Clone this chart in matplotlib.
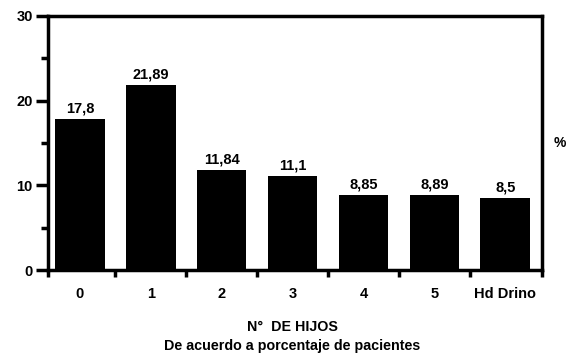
import matplotlib
matplotlib.use("Agg")
import matplotlib.pyplot as plt
import numpy as np

categories = ["0", "1", "2", "3", "4", "5", "Hd Drino"]
values = [17.8, 21.89, 11.84, 11.1, 8.85, 8.89, 8.5]
value_labels = ["17,8", "21,89", "11,84", "11,1", "8,85", "8,89", "8,5"]

plt.rcParams["font.family"] = ["Liberation Sans", "DejaVu Sans"]
plt.rcParams["font.weight"] = "bold"

fig = plt.figure(figsize=(5.67, 3.55), dpi=100)
ax = fig.add_axes([0.0847, 0.2394, 0.8713, 0.7156])

x = np.arange(len(categories))
ax.bar(x, values, width=0.7, color="black", zorder=2)
for xi, v, lab in zip(x, values, value_labels):
    ax.text(xi, v + 0.4, lab, ha="center", va="bottom", fontsize=10.5, fontweight="bold")

ax.set_xlim(-0.45, 6.52)
ax.set_ylim(0, 30)

lw = 2.5
for s in ax.spines.values():
    s.set_linewidth(lw)

ax.set_yticks([0, 10, 20, 30])
ax.set_yticks([5, 15, 25], minor=True)
ax.tick_params(axis="y", which="major", length=9, width=lw, labelsize=10.5, pad=2)
ax.tick_params(axis="y", which="minor", length=5, width=lw)

ax.set_xticks(x)
ax.set_xticklabels(categories)
ax.set_xticks([-0.45, 0.5, 1.5, 2.5, 3.5, 4.5, 5.5, 6.52], minor=True)
ax.tick_params(axis="x", which="major", length=0, labelsize=10.5, pad=12)
ax.tick_params(axis="x", which="minor", length=5, width=lw)

ax.text(1.035, 0.5, "%", transform=ax.transAxes, ha="center", va="center", fontsize=10)

fig.text(0.515, 0.053, "N°  DE HIJOS\nDe acuerdo a porcentaje de pacientes",
         ha="center", va="center", fontsize=10.3, fontweight="bold", linespacing=1.45)

fig.savefig("out.png", dpi=100)
